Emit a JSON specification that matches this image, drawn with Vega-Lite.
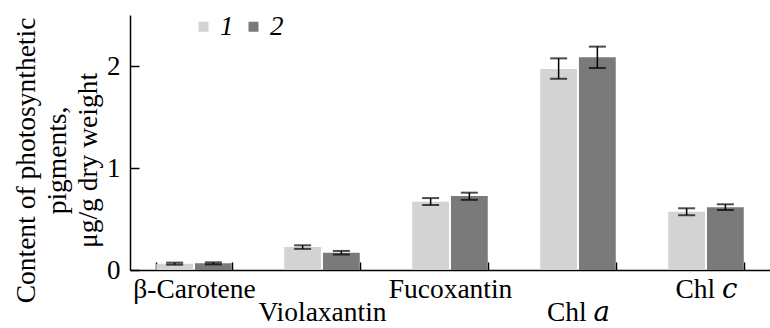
{
  "$schema": "https://vega.github.io/schema/vega-lite/v6.json",
  "autosize": "none",
  "width": 640,
  "height": 255,
  "padding": {"left": 130, "top": 15, "right": 0, "bottom": 58},
  "background": "white",
  "config": {
    "view": {"stroke": null},
    "font": "'Liberation Serif', 'Times New Roman', serif",
    "axis": {"grid": false, "domainColor": "black", "tickColor": "black", "labelColor": "black", "titleColor": "black", "labelFont": "'Liberation Serif', 'Times New Roman', serif", "titleFont": "'Liberation Serif', 'Times New Roman', serif", "titleFontWeight": "normal"},
    "legend": {"labelFont": "'Liberation Serif', 'Times New Roman', serif"}
  },
  "data": {"values": [
    {"pigment": "β-Carotene", "group": "1", "value": 0.062, "low": 0.052, "high": 0.072},
    {"pigment": "β-Carotene", "group": "2", "value": 0.065, "low": 0.055, "high": 0.075},
    {"pigment": "Violaxantin", "group": "1", "value": 0.225, "low": 0.207, "high": 0.242},
    {"pigment": "Violaxantin", "group": "2", "value": 0.17, "low": 0.152, "high": 0.187},
    {"pigment": "Fucoxantin", "group": "1", "value": 0.67, "low": 0.637, "high": 0.705},
    {"pigment": "Fucoxantin", "group": "2", "value": 0.725, "low": 0.688, "high": 0.758},
    {"pigment": "Chl 𝑎", "group": "1", "value": 1.97, "low": 1.875, "high": 2.075},
    {"pigment": "Chl 𝑎", "group": "2", "value": 2.085, "low": 1.98, "high": 2.19},
    {"pigment": "Chl 𝑐", "group": "1", "value": 0.57, "low": 0.537, "high": 0.605},
    {"pigment": "Chl 𝑐", "group": "2", "value": 0.615, "low": 0.588, "high": 0.644}
  ]},
  "encoding": {
    "x": {
      "field": "pigment", "type": "nominal", "sort": null,
      "scale": {"paddingInner": 0.41, "paddingOuter": 0.205},
      "axis": {
        "title": null, "labelAngle": 0, "labelFont": "'Liberation Serif', 'DejaVu Serif', serif", "labelFontSize": 27.5, "labelBaseline": "top",
        "labelPadding": {"condition": {"test": "datum.value === 'Violaxantin' || datum.value === 'Chl 𝑎'", "value": 36}, "value": 13},
        "tickBand": "extent", "tickSize": -8, "tickWidth": 1.5, "domainWidth": 1.5
      }
    },
    "xOffset": {"field": "group", "type": "nominal", "scale": {"paddingInner": 0.05}},
    "y": {
      "field": "value", "type": "quantitative",
      "scale": {"domain": [0, 2.5], "nice": false},
      "axis": {
        "values": [0, 1, 2], "labelFont": "'Liberation Serif', 'Times New Roman', serif", "labelFontSize": 27, "tickSize": -9, "tickWidth": 1.5, "domainWidth": 1.5,
        "labelPadding": 19,
        "title": ["Content of photosynthetic", "pigments,", "μg/g dry weight"],
        "titleFont": "'Liberation Serif', 'Times New Roman', serif",
        "titleFontSize": 27.5, "titleLineHeight": 31, "titlePadding": 4, "titleY": 145
      }
    }
  },
  "layer": [
    {
      "mark": {"type": "bar"},
      "encoding": {
        "color": {
          "field": "group", "type": "nominal",
          "scale": {"domain": ["1", "2"], "range": ["#d3d3d3", "#7a7a7a"]},
          "legend": {
            "title": null, "orient": "none", "legendX": 60, "legendY": -2, "direction": "horizontal",
            "symbolType": "square", "symbolSize": 100, "symbolStrokeWidth": 0,
            "labelFont": "'Liberation Serif', 'Times New Roman', serif", "labelFontStyle": "italic", "labelFontSize": 27, "labelColor": "black",
            "labelOffset": 3, "columnPadding": 6
          }
        }
      }
    },
    {
      "mark": {"type": "rule", "color": "black", "strokeWidth": 1.5},
      "encoding": {"y": {"field": "low", "type": "quantitative"}, "y2": {"field": "high"}}
    },
    {
      "mark": {"type": "tick", "color": "black", "thickness": 2, "size": 17},
      "encoding": {"y": {"field": "low", "type": "quantitative"}}
    },
    {
      "mark": {"type": "tick", "color": "black", "thickness": 2, "size": 17},
      "encoding": {"y": {"field": "high", "type": "quantitative"}}
    }
  ]
}
